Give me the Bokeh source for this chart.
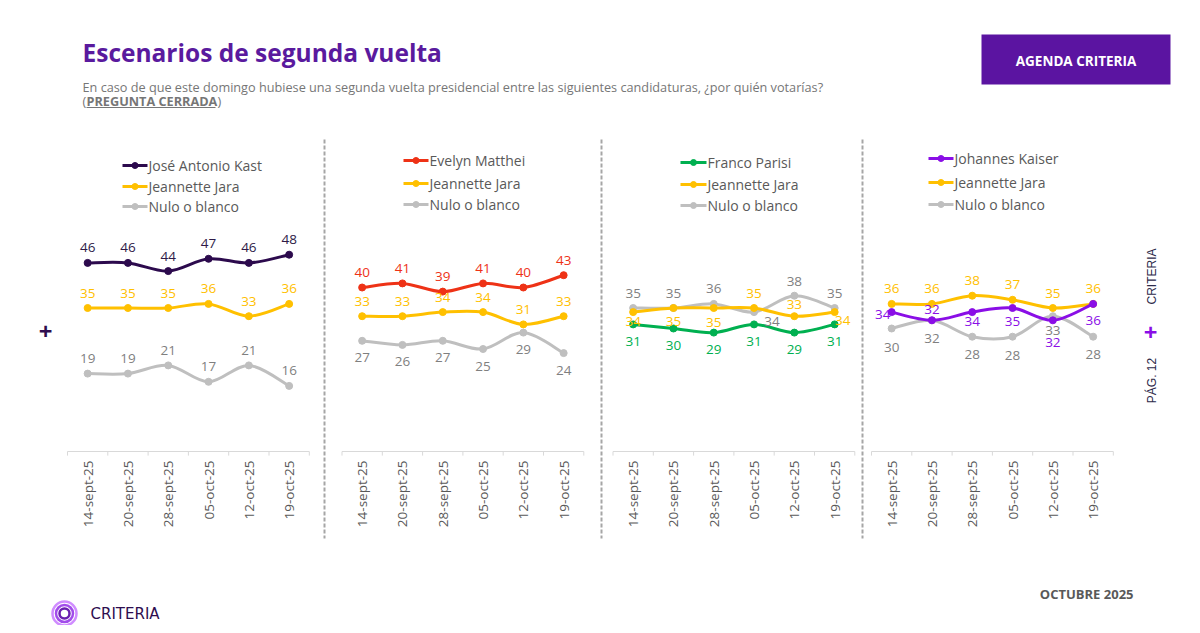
import numpy as np
from bokeh.plotting import figure
from bokeh.models import Range1d, ColumnDataSource
from bokeh.embed import file_html
from bokeh.resources import INLINE
from bokeh.core.properties import value

# ---------------- DATA ----------------
dates = ["14-sept-25", "20-sept-25", "28-sept-25", "05-oct-25", "12-oct-25", "19-oct-25"]

kast = [46, 46, 44, 47, 46, 48]
jara_1 = [35, 35, 35, 36, 33, 36]
nulo_1 = [19, 19, 21, 17, 21, 16]

matthei = [40, 41, 39, 41, 40, 43]
jara_2 = [33, 33, 34, 34, 31, 33]
nulo_2 = [27, 26, 27, 25, 29, 24]

parisi = [31, 30, 29, 31, 29, 31]
jara_3 = [34, 35, 35, 35, 33, 34]
nulo_3 = [35, 35, 36, 34, 38, 35]

kaiser = [34, 32, 34, 35, 32, 36]
jara_4 = [36, 36, 38, 37, 35, 36]
nulo_4 = [30, 32, 28, 28, 33, 28]

names_1 = ["José Antonio Kast", "Jeannette Jara", "Nulo o blanco"]
names_2 = ["Evelyn Matthei", "Jeannette Jara", "Nulo o blanco"]
names_3 = ["Franco Parisi", "Jeannette Jara", "Nulo o blanco"]
names_4 = ["Johannes Kaiser", "Jeannette Jara", "Nulo o blanco"]

title_text = "Escenarios de segunda vuelta"
subtitle_text = ("En caso de que este domingo hubiese una segunda vuelta presidencial entre las "
                 "siguientes candidaturas, ¿por quién votarías?")

# ---------------- LAYOUT / STYLE ----------------
W, H, M = 1192, 625, 0
CW = 40.3          # px per category
SC = 4.1           # px per percentage point
AXIS_Y = 451       # page px of the 0 line
FONT = value("Open Sans")

def X(px):
    return (px - M) / CW

def Y(py):
    return (AXIS_Y - py) / SC

panel_left = [67, 341.5, 612.5, 871]
legend_pos = [(122, 147, [165, 186, 206]),
              (403, 428, [160, 183, 204]),
              (680, 706, [162, 184, 205]),
              (928, 953, [158, 182, 204])]

JARA = "#ffc000"
NULO = "#bfbfbf"
NULO_TXT = "#7f7f7f"
GREY_TXT = "#595959"

panels = [
    dict(series=[kast, jara_1, nulo_1], names=names_1,
         colors=["#2c0a4d", JARA, NULO], tcolors=["#2e1a47", JARA, NULO_TXT],
         offs=[[(0, -15)] * 6, [(0, -15)] * 6, [(0, -15)] * 6]),
    dict(series=[matthei, jara_2, nulo_2], names=names_2,
         colors=["#ee3216", JARA, NULO], tcolors=["#ee3216", JARA, NULO_TXT],
         offs=[[(0, -15)] * 6, [(0, -15)] * 6, [(0, 17)] * 6]),
    dict(series=[parisi, jara_3, nulo_3], names=names_3,
         colors=["#00b050", JARA, NULO], tcolors=["#00b050", JARA, NULO_TXT],
         offs=[[(0, 17)] * 6,
               [(0, 9), (0, 13), (0, 14), (0, -15), (0, -12), (8, 8)],
               [(0, -15), (0, -15), (0, -15), (18, 9), (0, -14), (0, -15)]]),
    dict(series=[kaiser, jara_4, nulo_4], names=names_4,
         colors=["#8a0ee6", JARA, NULO], tcolors=["#8a0ee6", JARA, NULO_TXT],
         offs=[[(-9, 2), (0, -11), (0, 9), (0, 13), (0, 22), (0, 17)],
               [(0, -15)] * 6,
               [(0, 19), (0, 18), (0, 18), (0, 19), (0, 14), (0, 18)]]),
]
draw_order = [2, 1, 0]

p = figure(width=W, height=H, output_backend="svg", toolbar_location=None,
           x_axis_type=None, y_axis_type=None, min_border=0,
           x_range=Range1d(X(M), X(M + W)), y_range=Range1d(Y(M + H), Y(M)))
p.xgrid.visible = False
p.ygrid.visible = False
p.outline_line_color = None
p.background_fill_color = "white"
p.border_fill_color = "white"


def smooth_segments(xs, ys):
    P = np.column_stack([xs, ys]).astype(float)
    n = len(P)
    out = dict(x0=[], y0=[], x1=[], y1=[], cx0=[], cy0=[], cx1=[], cy1=[])
    for i in range(n - 1):
        p0 = P[i - 1] if i > 0 else P[i]
        p1 = P[i]
        p2 = P[i + 1]
        p3 = P[i + 2] if i + 2 < n else P[i + 1]
        c0 = p1 + (p2 - p0) / 6.0
        c1 = p2 - (p3 - p1) / 6.0
        out["x0"].append(p1[0]); out["y0"].append(p1[1])
        out["x1"].append(p2[0]); out["y1"].append(p2[1])
        out["cx0"].append(c0[0]); out["cy0"].append(c0[1])
        out["cx1"].append(c1[0]); out["cy1"].append(c1[1])
    return out


for k, pan in enumerate(panels):
    x0 = X(panel_left[k])
    xs = x0 + np.arange(len(dates)) + 0.5

    # axis line, boundary ticks, rotated tick labels
    p.segment(x0=[x0], y0=[0], x1=[x0 + len(dates)], y1=[0], line_color="#d9d9d9", line_width=1)
    bx = x0 + np.arange(len(dates) + 1)
    p.segment(x0=bx, y0=[0] * len(bx), x1=bx, y1=[-1.0] * len(bx), line_color="#d9d9d9", line_width=1)
    p.text(x=xs, y=[0] * len(dates), text=dates, angle=np.pi / 2, y_offset=9,
           text_align="right", text_baseline="middle", text_font=FONT,
           text_font_size="13.5px", text_color=GREY_TXT)

    # series
    for j in draw_order:
        vals = pan["series"][j]
        col = pan["colors"][j]
        seg = smooth_segments(xs, vals)
        p.bezier(source=ColumnDataSource(seg), x0="x0", y0="y0", x1="x1", y1="y1",
                 cx0="cx0", cy0="cy0", cx1="cx1", cy1="cy1",
                 line_color=col, line_width=3, line_cap="round")
        p.scatter(x=xs, y=vals, size=7, fill_color=col, line_color=col)
    for j in draw_order:
        vals = pan["series"][j]
        offs = pan["offs"][j]
        src = ColumnDataSource(dict(x=xs, y=vals, t=[str(v) for v in vals],
                                    dx=[o[0] for o in offs], dy=[o[1] for o in offs]))
        p.text(x="x", y="y", text="t", x_offset="dx", y_offset="dy", source=src,
               text_align="center", text_baseline="middle", text_font=FONT,
               text_font_size="13.5px", text_color=pan["tcolors"][j])

    # legend
    lx0, lx1, lys = legend_pos[k]
    for j, name in enumerate(pan["names"]):
        col = pan["colors"][j]
        p.segment(x0=[X(lx0)], y0=[Y(lys[j])], x1=[X(lx1)], y1=[Y(lys[j])],
                  line_color=col, line_width=3)
        p.scatter(x=[X((lx0 + lx1) / 2)], y=[Y(lys[j])], size=6, fill_color=col, line_color=col)
        p.text(x=[X(lx1 + 1)], y=[Y(lys[j])], text=[name], text_align="left",
               text_baseline="middle", text_font=FONT, text_font_size="14px",
               text_color=GREY_TXT)

# dashed separators
sep_x = [X(324), X(601), X(862)]
p.segment(x0=sep_x, y0=[Y(139)] * 3, x1=sep_x, y1=[Y(538)] * 3,
          line_color="#a6a6a6", line_width=2, line_dash="4 2")

# title and subtitle
SUB = "#767676"
p.text(x=[X(82)], y=[Y(52)], text=[title_text], text_align="left", text_baseline="middle",
       text_font=FONT, text_font_style="bold", text_font_size="24.5px", text_color="#5a1a9e")
p.text(x=[X(82)], y=[Y(86)], text=[subtitle_text], text_align="left", text_baseline="middle",
       text_font=FONT, text_font_size="12.7px", text_color=SUB)
p.text(x=[X(82)], y=[Y(100)], text=["("], text_align="left", text_baseline="middle",
       text_font=FONT, text_font_size="12.7px", text_color=SUB)
p.text(x=[X(86)], y=[Y(100)], text=["PREGUNTA CERRADA"], text_align="left", text_baseline="middle",
       text_font=FONT, text_font_style="bold", text_font_size="12.7px", text_color=SUB)
p.text(x=[X(217)], y=[Y(100)], text=[")"], text_align="left", text_baseline="middle",
       text_font=FONT, text_font_size="12.7px", text_color=SUB)
p.segment(x0=[X(86)], y0=[Y(107)], x1=[X(215)], y1=[Y(107)], line_color=SUB, line_width=1)

# button
p.quad(left=[X(981)], right=[X(1170)], top=[Y(34)], bottom=[Y(84)],
       fill_color="#5b14a1", line_color=None)
p.text(x=[X(1075.5)], y=[Y(60)], text=["AGENDA CRITERIA"], text_align="center",
       text_baseline="middle", text_font=FONT, text_font_style="bold",
       text_font_size="13.5px", text_color="white")

# side marks
p.text(x=[X(45)], y=[Y(331)], text=["+"], text_align="center", text_baseline="middle",
       text_font=FONT, text_font_style="bold", text_font_size="24px", text_color="#2e0d4f")
p.text(x=[X(1150)], y=[Y(332)], text=["+"], text_align="center", text_baseline="middle",
       text_font=FONT, text_font_style="bold", text_font_size="24px", text_color="#8a0ee6")
p.text(x=[X(1151)], y=[Y(276)], text=["CRITERIA"], angle=np.pi / 2, text_align="center",
       text_baseline="middle", text_font=value("Liberation Sans"), text_font_size="12px",
       text_color="#2d2a4a")
p.text(x=[X(1151)], y=[Y(380)], text=["PÁG. 12"], angle=np.pi / 2, text_align="center",
       text_baseline="middle", text_font=value("Liberation Sans"), text_font_size="12px",
       text_color="#2d2a4a")

# footer
p.text(x=[X(1133)], y=[Y(593)], text=["OCTUBRE 2025"], text_align="right", text_baseline="middle",
       text_font=FONT, text_font_style="bold", text_font_size="13px", text_color=GREY_TXT)
p.scatter(x=[X(64)] * 3, y=[Y(613)] * 3, size=[24, 17, 10], fill_color=None,
          line_color=["#d08cff", "#a24dea", "#6a1fb0"], line_width=2.5)
p.text(x=[X(90)], y=[Y(613)], text=["CRITERIA"], text_align="left", text_baseline="middle",
       text_font=value("DejaVu Sans"), text_font_size="15px", text_color="#2e0d4f")

open("out.html", "w").write(file_html(p, INLINE))
